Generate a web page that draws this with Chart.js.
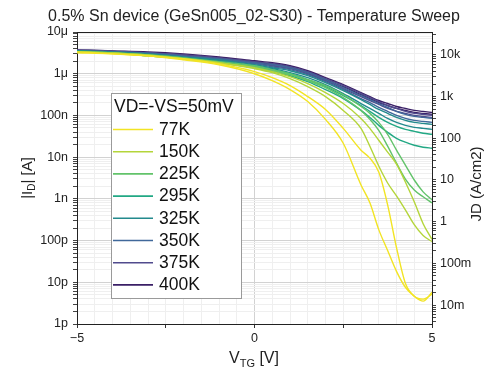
<!DOCTYPE html>
<html><head><meta charset="utf-8">
<script src="https://cdn.jsdelivr.net/npm/chart.js@4.4.0/dist/chart.umd.min.js"></script>
<style>html,body{margin:0;padding:0;background:#fff}canvas{display:block}</style>
</head><body>
<canvas id="c" width="486" height="378"></canvas>
<script>
// ---- data ----
const vtg = [-5,-4,-3,-2,-1,0,0.5,1,1.5,2,2.5,3,3.25,3.5,3.75,4,4.25,4.5,4.75,5];
const temps = ['77K','150K','225K','295K','325K','350K','375K','400K'];
const legendTitle = 'VD=-VS=50mV';

const i77K_a  = [3.16e-6,2.99e-6,2.68e-6,2.15e-6,1.64e-6,1.00e-6,6.81e-7,4.16e-7,2.15e-7,8.03e-8,2.15e-8,2.15e-9,8.03e-10,1.83e-10,5.78e-11,1.83e-11,7.60e-12,4.64e-12,3.53e-12,5.78e-12];
const i77K_b  = [3.34e-6,2.99e-6,2.68e-6,2.28e-6,1.73e-6,1.12e-6,8.03e-7,5.18e-7,2.83e-7,1.39e-7,4.90e-8,1.47e-8,9.47e-9,4.39e-9,7.20e-10,6.81e-11,9.47e-12,4.64e-12,3.94e-12,5.18e-12];
const i150K_a = [3.34e-6,3.16e-6,2.68e-6,2.28e-6,1.83e-6,1.32e-6,1.06e-6,7.60e-7,4.90e-7,2.83e-7,1.32e-7,4.90e-8,1.83e-8,6.11e-9,2.40e-9,1.18e-9,5.47e-10,2.40e-10,1.32e-10,9.47e-11];
const i150K_b = [3.34e-6,3.16e-6,2.83e-6,2.28e-6,1.83e-6,1.39e-6,1.12e-6,8.48e-7,5.78e-7,3.53e-7,1.93e-7,8.48e-8,4.90e-8,2.54e-8,1.32e-8,6.81e-9,2.54e-9,8.48e-10,2.54e-10,1.06e-10];
const i225K_a = [3.34e-6,3.16e-6,2.83e-6,2.40e-6,1.83e-6,1.47e-6,1.18e-6,9.47e-7,6.81e-7,4.64e-7,2.68e-7,1.32e-7,8.03e-8,4.39e-8,1.83e-8,7.20e-9,2.99e-9,1.64e-9,1.12e-9,8.03e-10];
const i225K_b = [3.34e-6,3.16e-6,2.83e-6,2.40e-6,1.93e-6,1.55e-6,1.25e-6,1.00e-6,7.20e-7,5.18e-7,3.16e-7,1.64e-7,1.12e-7,6.81e-8,3.53e-8,1.47e-8,6.45e-9,2.83e-9,1.47e-9,9.47e-10];
const i295K_a = [3.53e-6,3.16e-6,2.83e-6,2.40e-6,1.93e-6,1.47e-6,1.25e-6,1.00e-6,7.20e-7,4.90e-7,2.99e-7,1.73e-7,1.25e-7,8.96e-8,6.81e-8,5.47e-8,4.64e-8,4.16e-8,3.73e-8,3.53e-8];
const i295K_b = [3.34e-6,3.16e-6,2.68e-6,2.28e-6,1.83e-6,1.39e-6,1.12e-6,8.96e-7,6.45e-7,4.16e-7,2.54e-7,1.32e-7,8.96e-8,5.78e-8,3.94e-8,2.83e-8,2.28e-8,1.93e-8,1.73e-8,1.64e-8];
const i325K_a = [3.53e-6,3.34e-6,2.99e-6,2.54e-6,2.15e-6,1.64e-6,1.39e-6,1.18e-6,8.96e-7,6.11e-7,3.94e-7,2.40e-7,1.83e-7,1.39e-7,1.12e-7,8.96e-8,7.60e-8,6.81e-8,6.45e-8,6.11e-8];
const i325K_b = [3.53e-6,3.16e-6,2.83e-6,2.40e-6,2.04e-6,1.55e-6,1.32e-6,1.06e-6,8.03e-7,5.47e-7,3.34e-7,1.93e-7,1.47e-7,1.12e-7,8.48e-8,6.81e-8,5.78e-8,5.18e-8,4.90e-8,4.64e-8];
const i350K_a = [3.53e-6,3.34e-6,3.16e-6,2.68e-6,2.28e-6,1.83e-6,1.64e-6,1.39e-6,1.06e-6,7.20e-7,4.64e-7,2.99e-7,2.40e-7,1.93e-7,1.55e-7,1.25e-7,1.06e-7,9.47e-8,8.96e-8,8.48e-8];
const i350K_b = [3.53e-6,3.34e-6,2.99e-6,2.54e-6,2.15e-6,1.73e-6,1.47e-6,1.25e-6,9.47e-7,6.45e-7,4.16e-7,2.54e-7,2.04e-7,1.55e-7,1.25e-7,1.00e-7,8.48e-8,7.60e-8,7.20e-8,6.81e-8];
const i375K_a = [3.73e-6,3.53e-6,3.16e-6,2.83e-6,2.40e-6,1.93e-6,1.73e-6,1.47e-6,1.12e-6,7.60e-7,5.18e-7,3.34e-7,2.68e-7,2.15e-7,1.73e-7,1.47e-7,1.25e-7,1.12e-7,1.06e-7,1.00e-7];
const i375K_b = [3.53e-6,3.34e-6,2.99e-6,2.68e-6,2.28e-6,1.83e-6,1.55e-6,1.32e-6,1.00e-6,6.81e-7,4.39e-7,2.83e-7,2.28e-7,1.83e-7,1.47e-7,1.25e-7,1.12e-7,1.00e-7,9.47e-8,8.96e-8];
const i400K_a = [3.73e-6,3.53e-6,3.34e-6,2.99e-6,2.54e-6,2.04e-6,1.83e-6,1.55e-6,1.18e-6,8.03e-7,5.47e-7,3.53e-7,2.83e-7,2.28e-7,1.93e-7,1.64e-7,1.47e-7,1.32e-7,1.25e-7,1.18e-7];
const i400K_b = [3.53e-6,3.34e-6,3.16e-6,2.83e-6,2.40e-6,1.93e-6,1.64e-6,1.39e-6,1.06e-6,7.20e-7,4.90e-7,3.16e-7,2.54e-7,2.04e-7,1.73e-7,1.47e-7,1.32e-7,1.18e-7,1.12e-7,1.06e-7];

// tick labels
const idTickValues = [1e-12,1e-11,1e-10,1e-9,1e-8,1e-7,1e-6,1e-5];
const idTickLabels = ['1p','10p','100p','1n','10n','100n','1μ','10μ'];
const jdTickValues = [1e-2,1e-1,1,10,100,1e3,1e4];
const jdTickLabels = ['10m','100m','1','10','100','1k','10k'];
const vtgTickValues = [-5,0,5];
const vtgTickLabels = ['−5','0','5'];
const jdPerAmp = 3.53e9; // JD axis scale relative to |ID| axis

// ---- styles ----
const tempColors = ['#f2e424','#b4d53a','#62c36a','#22a884','#238a8d','#40689a','#514b8d','#3a1f66'];
const FONT = "'Liberation Sans', Arial, sans-serif";
Chart.defaults.font.family = FONT;
Chart.defaults.color = '#222';

const sweeps = [[i77K_a,i77K_b],[i150K_a,i150K_b],[i225K_a,i225K_b],[i295K_a,i295K_b],
                [i325K_a,i325K_b],[i350K_a,i350K_b],[i375K_a,i375K_b],[i400K_a,i400K_b]];
const datasets = [];
temps.forEach((t, k) => {
  sweeps[k].forEach((arr, j) => {
    datasets.push({
      label: t + (j ? ' (2)' : ''),
      data: vtg.map((v, i) => ({x: v, y: arr[i]})),
      borderColor: tempColors[k],
      borderWidth: 1.4,
      pointRadius: 0,
      fill: false,
      cubicInterpolationMode: 'monotone',
      yAxisID: 'y'
    });
  });
});

function decadeTicks(min, max) {
  const out = [];
  const e0 = Math.floor(Math.log10(min)), e1 = Math.ceil(Math.log10(max));
  for (let e = e0; e <= e1; e++) for (let m = 1; m <= 9; m++) {
    const v = m * Math.pow(10, e);
    if (v >= min * (1 - 1e-9) && v <= max * (1 + 1e-9)) out.push({value: v});
  }
  return out;
}
function isDecade(v) { const l = Math.log10(v); return Math.abs(l - Math.round(l)) < 1e-6; }
function lookup(vals, labels, v) {
  const i = vals.findIndex(t => Math.abs(t === 0 ? v : v / t - 1) < 1e-6 && (t !== 0 || Math.abs(v) < 1e-9));
  return i >= 0 ? labels[i] : '';
}

const yMin = 1e-12, yMax = 1e-5;

function drawParts(ctx, parts, cx, baseY) {
  let w = 0;
  parts.forEach(p => { ctx.font = p.size + 'px ' + FONT; p.w = ctx.measureText(p.t).width; w += p.w; });
  let x = cx - w / 2;
  parts.forEach(p => { ctx.font = p.size + 'px ' + FONT; ctx.fillText(p.t, x, baseY + (p.dy || 0)); x += p.w; });
}

const decor = {
  id: 'decor',
  afterDraw(chart) {
    const ctx = chart.ctx, a = chart.chartArea;
    ctx.save();
    // top frame line
    ctx.strokeStyle = '#222'; ctx.lineWidth = 1;
    ctx.beginPath(); ctx.moveTo(a.left, Math.round(a.top) + 0.5); ctx.lineTo(a.right, Math.round(a.top) + 0.5); ctx.stroke();
    ctx.fillStyle = '#222';
    ctx.textAlign = 'left'; ctx.textBaseline = 'alphabetic';
    // x title
    drawParts(ctx, [{t:'V', size:16},{t:'TG', size:11, dy:4},{t:' [V]', size:16}], 254, 363);
    // y title (left)
    ctx.save(); ctx.translate(26, 178); ctx.rotate(-Math.PI/2);
    drawParts(ctx, [{t:'|I', size:15},{t:'D', size:10, dy:3},{t:'| [A]', size:15}], 0, 5.5);
    ctx.restore();
    // right title
    ctx.save(); ctx.translate(475, 184); ctx.rotate(-Math.PI/2);
    drawParts(ctx, [{t:'JD (A/cm2)', size:15}], 0, 5.5);
    ctx.restore();

    // legend
    const bx = 111.5, by = 93.5, bw = 130, bh = 205;
    ctx.fillStyle = '#fff'; ctx.fillRect(bx, by, bw, bh);
    ctx.strokeStyle = '#9a9a9a'; ctx.lineWidth = 1; ctx.strokeRect(bx, by, bw, bh);
    ctx.fillStyle = '#111'; ctx.textBaseline = 'middle';
    ctx.font = '17.5px ' + FONT;
    ctx.fillText(legendTitle, 114, 107);
    temps.forEach((t, i) => {
      const y = 129.5 + i * 22.2;
      ctx.strokeStyle = tempColors[i]; ctx.lineWidth = 1.6;
      ctx.beginPath(); ctx.moveTo(113, y); ctx.lineTo(153, y); ctx.stroke();
      ctx.fillStyle = '#111'; ctx.font = '17.5px ' + FONT;
      ctx.fillText(t, 159, y + 0.5);
    });
    ctx.restore();
  }
};

new Chart(document.getElementById('c'), {
  type: 'line',
  data: { datasets },
  plugins: [decor],
  options: {
    responsive: false, devicePixelRatio: 1, animation: false,
    layout: { padding: { left: 22, right: 0, top: 0, bottom: 0 } },
    plugins: {
      legend: { display: false }, tooltip: { enabled: false },
      title: { display: true, text: '0.5% Sn device (GeSn005_02-S30) - Temperature Sweep',
               color: '#222', font: { size: 16, weight: 'normal' }, padding: { top: 7, bottom: 5.8 } }
    },
    scales: {
      x: {
        type: 'linear', min: -5, max: 5,
        afterBuildTicks: s => { const t = []; for (let i = 0; i <= 20; i++) t.push({value: -5 + i * 0.5}); s.ticks = t; },
        afterFit: s => { s.height = 54; },
        ticks: { autoSkip: false, maxRotation: 0, padding: 3, font: { size: 12.5 }, color: '#222',
                 callback: v => lookup(vtgTickValues, vtgTickLabels, v) },
        grid: { tickLength: 4,
                color: c => (c.tick && Math.abs(c.tick.value) < 1e-9) ? '#d2d2d2' : '#efefef',
                tickColor: c => (c.tick && Math.abs(c.tick.value / 2.5 - Math.round(c.tick.value / 2.5)) < 1e-9) ? '#333' : 'rgba(0,0,0,0)' },
        border: { display: true, color: '#222', width: 1 }
      },
      y: {
        type: 'logarithmic', position: 'left', min: yMin, max: yMax,
        afterBuildTicks: s => { s.ticks = decadeTicks(yMin, yMax); },
        afterFit: s => { s.width = 55; },
        ticks: { autoSkip: false, padding: 5, font: { size: 12.5 }, color: '#222',
                 callback: v => lookup(idTickValues, idTickLabels, v) },
        grid: { tickLength: 4,
                color: c => (c.tick && isDecade(c.tick.value)) ? '#d2d2d2' : '#efefef',
                tickColor: '#444' },
        border: { display: true, color: '#222', width: 1 }
      },
      y2: {
        type: 'logarithmic', position: 'right', min: yMin * jdPerAmp, max: yMax * jdPerAmp,
        afterBuildTicks: s => { s.ticks = decadeTicks(yMin * jdPerAmp, yMax * jdPerAmp); },
        afterFit: s => { s.width = 54; },
        ticks: { autoSkip: false, padding: 4, font: { size: 12.5 }, color: '#222',
                 callback: v => lookup(jdTickValues, jdTickLabels, v) },
        grid: { drawOnChartArea: false, tickLength: 4, tickColor: '#444' },
        border: { display: true, color: '#222', width: 1 }
      }
    }
  }
});
</script>
</body></html>
